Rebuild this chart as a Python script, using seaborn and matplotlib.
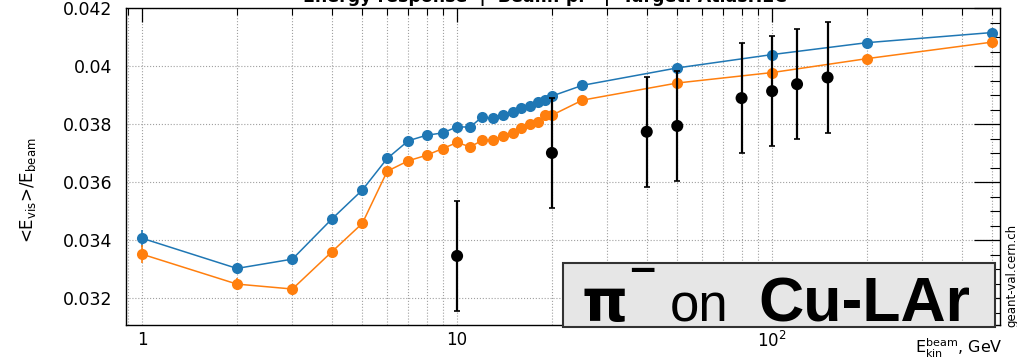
# Energy response, pi- on Cu-LAr (geant-val style plot)
import matplotlib
matplotlib.use("Agg")
import matplotlib.pyplot as plt
import matplotlib.ticker as mticker
from matplotlib.patches import Rectangle
import seaborn as sns

# -------------------------------
# Data
# -------------------------------
sim_energy = [1, 2, 3, 4, 5, 6, 7, 8, 9, 10, 11, 12, 13, 14, 15, 16, 17, 18, 19, 20,
              25, 50, 100, 200, 500]

blue_resp = [0.03407, 0.03303, 0.03335, 0.03473, 0.03573, 0.03682, 0.03743, 0.03762,
             0.03770, 0.03791, 0.03790, 0.03825, 0.03820, 0.03832, 0.03841, 0.03856,
             0.03863, 0.03875, 0.03883, 0.03897, 0.03934, 0.03994, 0.04040, 0.04081,
             0.04116]
blue_err = [0.00030, 0.00020, 0.00015, 0.00010, 0.00010, 0.00008, 0.00006, 0.00006,
            0.00005, 0.00005, 0.00005, 0.00005, 0.00005, 0.00005, 0.00005, 0.00005,
            0.00005, 0.00005, 0.00005, 0.00005, 0.00004, 0.00004, 0.00003, 0.00003,
            0.00003]

orange_resp = [0.03352, 0.03249, 0.03232, 0.03360, 0.03458, 0.03638, 0.03674, 0.03693,
               0.03716, 0.03737, 0.03722, 0.03744, 0.03745, 0.03759, 0.03771, 0.03787,
               0.03802, 0.03808, 0.03833, 0.03831, 0.03883, 0.03942, 0.03978, 0.04026,
               0.04083]
orange_err = [0.00030, 0.00020, 0.00015, 0.00010, 0.00010, 0.00008, 0.00006, 0.00006,
              0.00005, 0.00005, 0.00005, 0.00005, 0.00005, 0.00005, 0.00005, 0.00005,
              0.00005, 0.00005, 0.00005, 0.00005, 0.00004, 0.00004, 0.00003, 0.00003,
              0.00003]

data_energy = [10, 20, 40, 50, 80, 100, 120, 150]
data_resp = [0.03346, 0.03701, 0.03774, 0.03794, 0.03890, 0.03914, 0.03938, 0.03961]
data_err = [0.00190, 0.00190, 0.00190, 0.00190, 0.00190, 0.00190, 0.00190, 0.00190]

x_ticks = [1, 10, 100]
x_tick_labels = ["1", "10", r"$10^{2}$"]

# -------------------------------
# Style
# -------------------------------
sns.set_theme(style="white")
plt.rcParams["font.family"] = ["DejaVu Sans"]
plt.rcParams["mathtext.fontset"] = "dejavusans"
plt.rcParams["text.color"] = "black"
plt.rcParams["axes.labelcolor"] = "black"
plt.rcParams["xtick.color"] = "black"
plt.rcParams["ytick.color"] = "black"

BLUE = "#1f77b4"
ORANGE = "#ff7f0e"

fig = plt.figure(figsize=(10.17, 3.58), dpi=100)
ax = fig.add_axes([126 / 1017, 1 - 325 / 358, 874 / 1017, 317 / 358])

# -------------------------------
# Series
# -------------------------------
for resp, err, col in [(blue_resp, blue_err, BLUE), (orange_resp, orange_err, ORANGE)]:
    ax.errorbar(sim_energy, resp, yerr=err, fmt="none", ecolor=col, elinewidth=1.2, zorder=2)
    sns.lineplot(x=sim_energy, y=resp, ax=ax, color=col, lw=1.1, marker="o",
                 markersize=8, markeredgewidth=0, zorder=3)

ax.errorbar(data_energy, data_resp, yerr=data_err, fmt="none", ecolor="black",
            elinewidth=1.6, capsize=2.2, capthick=1.2, zorder=4)
sns.scatterplot(x=data_energy, y=data_resp, ax=ax, color="black", s=75,
                edgecolor="none", zorder=5)

# -------------------------------
# Axes
# -------------------------------
ax.set_xscale("log")
ax.set_xlim(0.889, 529)
ax.set_ylim(0.03108, 0.042005)

ax.xaxis.set_major_locator(mticker.FixedLocator(x_ticks))
ax.xaxis.set_major_formatter(mticker.FixedFormatter(x_tick_labels))
ax.xaxis.set_minor_locator(mticker.LogLocator(base=10, subs=range(2, 10)))
ax.xaxis.set_minor_formatter(mticker.NullFormatter())
ax.yaxis.set_major_locator(mticker.MultipleLocator(0.002))
ax.yaxis.set_minor_locator(mticker.MultipleLocator(0.0005))
ax.yaxis.set_major_formatter(mticker.FuncFormatter(lambda v, p: "%g" % round(v, 4)))

ax.tick_params(which="both", direction="in", top=True, right=True, color="black")
ax.tick_params(axis="y", which="major", length=19, width=0.9, labelsize=12.5, pad=10)
ax.tick_params(axis="y", which="minor", length=7, width=0.8)
ax.tick_params(axis="x", which="major", length=10, width=0.9, labelsize=12, pad=4)
ax.tick_params(axis="x", which="minor", length=5, width=0.8)

ax.grid(True, which="major", axis="both", color="#a0a0a0", ls=":", lw=0.8)
ax.grid(True, which="minor", axis="x", color="#a0a0a0", ls=":", lw=0.8)
ax.set_axisbelow(True)
for sp in ax.spines.values():
    sp.set_color("black")
    sp.set_linewidth(1.0)

ax.set_xlabel("")
ax.set_ylabel("")

# -------------------------------
# Texts
# -------------------------------
fig.text(545 / 1017, 1 - 2 / 358, "Energy response  |  Beam: pi-  |  Target: AtlasHEC",
         ha="center", va="baseline", fontsize=12.5, fontweight="bold")
fig.text(28 / 1017, 1 - 190 / 358, r"<E$_{\rm vis}$>/E$_{\rm beam}$", rotation=90,
         ha="center", va="center", fontsize=12)
fig.text(1003 / 1017, 1 - 353 / 358, r"E$_{\rm kin}^{\rm beam}$, GeV",
         ha="right", va="baseline", fontsize=11.5)
fig.text(1012 / 1017, 1 - 327 / 358, "geant-val.cern.ch", rotation=90,
         ha="center", va="bottom", fontsize=8.5)

# Legend-like label box
box = Rectangle((563 / 1017, 1 - 327 / 358), 432 / 1017, 64 / 358,
                transform=fig.transFigure, facecolor="#e6e6e6", edgecolor="#333333",
                lw=1.5, zorder=10)
fig.patches.append(box)
base_y = 1 - 321 / 358
fig.text(581 / 1017, base_y, "π", ha="left", va="baseline", fontsize=42,
         fontweight="bold", family=["DejaVu Sans"], zorder=11)
fig.text(642 / 1017, 1 - 271 / 358, "−", ha="center", va="center", fontsize=26,
         fontweight="bold", family=["DejaVu Sans"], zorder=11)
fig.text(670 / 1017, base_y, "on", ha="left", va="baseline", fontsize=38,
         family=["Liberation Sans"], zorder=11)
fig.text(758 / 1017, base_y, "Cu-LAr", ha="left", va="baseline", fontsize=45,
         fontweight="bold", family=["Liberation Sans"], zorder=11)

fig.savefig("out.png", dpi=100)
